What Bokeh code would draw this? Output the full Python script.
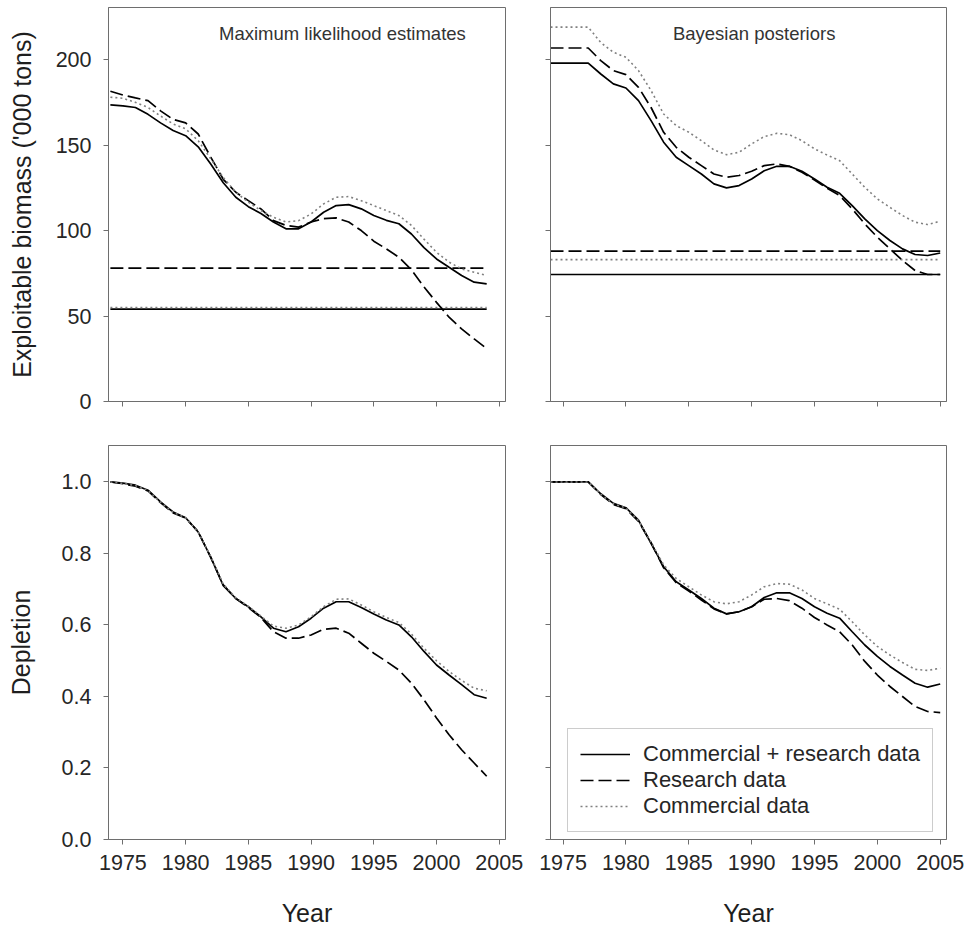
from bokeh.plotting import figure
from bokeh.layouts import column, row
from bokeh.models import (FixedTicker, PrintfTickFormatter, CustomJSTickFormatter,
                          Label, Legend, LegendItem, Range1d)
from bokeh.embed import file_html
from bokeh.resources import INLINE

# ---------------- data ----------------
years_ml = list(range(1974, 2005))      # maximum likelihood runs
years_bayes = list(range(1974, 2006))   # Bayesian runs

series_labels = ["Commercial + research data", "Research data", "Commercial data"]

# Exploitable biomass ('000 tons) - maximum likelihood estimates
ml_bio_both = [173.5, 173, 172, 168, 163, 158.5, 155.5, 149, 139, 128, 119.5, 114, 110, 105, 101,
               101, 105, 110.7, 114.6, 115.2, 112.7, 108.8, 106, 104, 98, 90, 83.4, 78.5, 73.7, 69.8, 68.8]
ml_bio_research = [181.5, 179.3, 177.6, 176, 170, 165, 163, 156.5, 143, 130, 122.4, 117.5, 112.7, 105.8, 103,
                   102, 105, 107, 107.4, 105, 100, 93.8, 89.3, 84.4, 77, 67, 58, 49.3, 42.5, 36.6, 31]
ml_bio_commercial = [178, 177.4, 175, 172, 167, 162.4, 159.5, 152.6, 142, 131, 122.4, 116.6, 111.7, 107.8, 105,
                     105.8, 109.7, 115.6, 119.5, 119.9, 117.5, 114.6, 111.7, 108.8, 103, 95, 87.3, 81.5, 77.6, 75.6, 73.7]
ml_bio_ref = [54, 78, 55]   # horizontal reference levels (solid, dashed, dotted)

# Exploitable biomass - Bayesian posteriors
by_bio_both = [198, 198, 198, 198, 191.6, 185.8, 183.4, 176, 164.3, 151.7, 142.9, 138, 133.1, 127.3, 125,
               126.3, 130.2, 135, 137.6, 137.6, 134.7, 130.2, 125.3, 121.8, 114.6, 106.8, 100, 94.2, 89.3,
               86, 85.4, 86.9]
by_bio_research = [206.8, 206.8, 206.8, 206.8, 199.4, 193.6, 191.2, 183.8, 172, 157.5, 148.7, 142.9, 138, 133.1,
                   131.2, 132.2, 134.7, 138, 139, 137.6, 134.1, 129.6, 124.8, 120.5, 112.7, 103.9, 96.1, 89.3,
                   82.5, 76.6, 74.3, 74.3]
by_bio_commercial = [219, 219, 219, 219, 210, 204.3, 201.4, 193.6, 181.9, 168.2, 161.4, 157.5, 152.6, 147.2,
                     144.4, 145.8, 150.7, 155, 156.9, 156.1, 152.6, 147.8, 144.2, 140.9, 133.1, 125.3, 118.5,
                     113.6, 108.8, 104.9, 103.5, 105.5]
by_bio_ref = [74.3, 88, 83]

# Depletion - maximum likelihood estimates
ml_dep_both = [1.0, 0.997, 0.991, 0.977, 0.944, 0.916, 0.90, 0.86, 0.79, 0.71, 0.674, 0.651, 0.623, 0.591, 0.581,
               0.595, 0.619, 0.647, 0.665, 0.665, 0.649, 0.631, 0.614, 0.600, 0.567, 0.526, 0.488, 0.46, 0.433,
               0.405, 0.395]
ml_dep_research = [1.0, 0.995, 0.988, 0.975, 0.942, 0.913, 0.899, 0.861, 0.789, 0.712, 0.674, 0.649, 0.621, 0.581,
                   0.563, 0.563, 0.572, 0.588, 0.591, 0.577, 0.549, 0.521, 0.498, 0.474, 0.437, 0.391, 0.34, 0.293,
                   0.251, 0.214, 0.177]
ml_dep_commercial = [1.0, 0.996, 0.99, 0.976, 0.943, 0.915, 0.9, 0.86, 0.792, 0.714, 0.676, 0.652, 0.625, 0.597,
                     0.591, 0.60, 0.623, 0.651, 0.672, 0.673, 0.656, 0.637, 0.621, 0.607, 0.575, 0.535, 0.50, 0.47,
                     0.445, 0.423, 0.416]

# Depletion - Bayesian posteriors
by_dep_both = [1.0, 1.0, 1.0, 1.0, 0.967, 0.94, 0.928, 0.893, 0.828, 0.763, 0.721, 0.698, 0.674, 0.647, 0.631,
               0.637, 0.651, 0.677, 0.69, 0.69, 0.674, 0.651, 0.633, 0.619, 0.581, 0.544, 0.512, 0.484, 0.46,
               0.437, 0.426, 0.435]
by_dep_research = [1.0, 1.0, 1.0, 1.0, 0.965, 0.937, 0.925, 0.89, 0.83, 0.76, 0.718, 0.695, 0.67, 0.645, 0.631,
                   0.637, 0.651, 0.672, 0.674, 0.668, 0.647, 0.621, 0.60, 0.581, 0.544, 0.498, 0.46, 0.428, 0.40,
                   0.372, 0.358, 0.355]
by_dep_commercial = [1.0, 1.0, 1.0, 1.0, 0.966, 0.939, 0.927, 0.892, 0.832, 0.768, 0.73, 0.707, 0.684, 0.665,
                     0.659, 0.665, 0.684, 0.707, 0.716, 0.714, 0.698, 0.674, 0.659, 0.644, 0.609, 0.572, 0.54,
                     0.516, 0.495, 0.476, 0.473, 0.479]

x_ticks = [1975, 1980, 1985, 1990, 1995, 2000, 2005]
bio_ticks = [0, 50, 100, 150, 200]
dep_ticks = [0.0, 0.2, 0.4, 0.6, 0.8, 1.0]

# ---------------- styling ----------------
FONT = "Liberation Sans"
STYLES = [dict(line_color="black", line_width=1.7, line_dash="solid"),
          dict(line_color="black", line_width=1.7, line_dash="13 5"),
          dict(line_color="#808080", line_width=1.6, line_dash="2 3")]
FRAME = "#6e6e6e"


def make_fig(width, height, borders, x_start, y_end, yticks, show_xlab, show_ylab,
             xlabel=None, ylabel=None, yfmt="%d", ylab_standoff=16):
    l, r, t, b = borders
    p = figure(width=width, height=height, output_backend="svg", toolbar_location=None,
               x_range=Range1d(x_start, 2005.5), y_range=Range1d(0, y_end),
               min_border_left=l, min_border_right=r, min_border_top=t, min_border_bottom=b)
    p.grid.visible = False
    p.outline_line_color = FRAME
    p.outline_line_width = 1
    p.background_fill_color = "white"
    p.border_fill_color = "white"
    for ax in (p.xaxis[0], p.yaxis[0]):
        ax.axis_line_color = FRAME
        ax.major_tick_line_color = FRAME
        ax.major_tick_out = 5
        ax.major_tick_in = 0
        ax.minor_tick_line_color = None
        ax.major_label_text_font = FONT
        ax.major_label_text_font_size = "21.5px"
        ax.major_label_text_color = "#262626"
        ax.axis_label_text_font = FONT
        ax.axis_label_text_font_size = "25px"
        ax.axis_label_text_font_style = "normal"
        ax.axis_label_text_color = "#1e1e1e"
    p.xaxis.ticker = FixedTicker(ticks=x_ticks)
    p.yaxis.ticker = FixedTicker(ticks=yticks)
    p.xaxis.major_label_standoff = 10
    p.yaxis.major_label_standoff = 12
    if show_xlab:
        p.xaxis.formatter = PrintfTickFormatter(format="%d")
        p.xaxis.axis_label = xlabel
        p.xaxis.axis_label_standoff = 26
    else:
        p.xaxis.formatter = CustomJSTickFormatter(code="return ''")
    if show_ylab:
        p.yaxis.formatter = PrintfTickFormatter(format=yfmt)
        p.yaxis.axis_label = ylabel
        p.yaxis.axis_label_standoff = ylab_standoff
    else:
        p.yaxis.formatter = CustomJSTickFormatter(code="return ''")
    return p


def add_series(p, years, values_list):
    rs = []
    for vals, st in zip(values_list, STYLES):
        rs.append(p.line(years, vals, **st))
    return rs


def add_refs(p, years, refs):
    for level, st in zip(refs, STYLES):
        p.line([years[0], years[-1]], [level, level], **st)


def add_title(p, x, y, text):
    p.add_layout(Label(x=x, y=y, text=text, text_align="center", text_baseline="middle",
                       text_font=FONT, text_font_size="18.5px", text_color="#333333"))


# top-left
tl = make_fig(527, 424, (108, 22, 7, 23), 1973.85, 230.5, bio_ticks, False, True,
              ylabel="Exploitable biomass ('000 tons)", ylab_standoff=17)
add_refs(tl, years_ml, ml_bio_ref)
add_series(tl, years_ml, [ml_bio_both, ml_bio_research, ml_bio_commercial])
add_title(tl, 1992.5, 215, "Maximum likelihood estimates")

# top-right
tr = make_fig(437, 424, (23, 18, 7, 23), 1974.0, 230.5, bio_ticks, False, False)
add_refs(tr, years_bayes, by_bio_ref)
add_series(tr, years_bayes, [by_bio_both, by_bio_research, by_bio_commercial])
add_title(tr, 1990.2, 215, "Bayesian posteriors")

# bottom-left
bl = make_fig(527, 506, (108, 22, 21, 91), 1973.85, 1.102, dep_ticks, True, True,
              xlabel="Year", ylabel="Depletion", yfmt="%.1f", ylab_standoff=24)
add_series(bl, years_ml, [ml_dep_both, ml_dep_research, ml_dep_commercial])

# bottom-right
br = make_fig(437, 506, (23, 18, 21, 91), 1974.0, 1.102, dep_ticks, True, False, xlabel="Year")
rs = add_series(br, years_bayes, [by_dep_both, by_dep_research, by_dep_commercial])
legend = Legend(items=[LegendItem(label=lab, renderers=[r]) for lab, r in zip(series_labels, rs)],
                location=(17, 7), border_line_color="#9a9a9a", border_line_width=1,
                background_fill_color="white", background_fill_alpha=1.0,
                label_text_font=FONT, label_text_font_size="22px", label_text_color="#262626",
                glyph_width=50, glyph_height=20, label_standoff=13, label_height=25,
                spacing=0, padding=12, margin=0)
br.add_layout(legend)

layout = column(row(tl, tr), row(bl, br))

with open("out.html", "w") as f:
    f.write(file_html(layout, INLINE))
